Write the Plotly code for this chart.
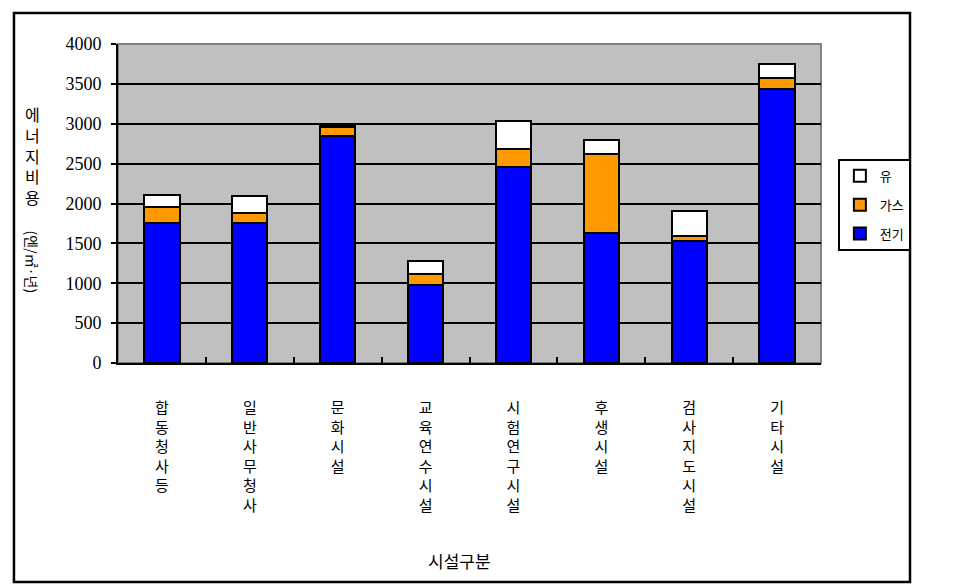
import plotly.graph_objects as go

# 시설구분별 에너지 비용 (엔/㎡·년)
categories = ["합동청사 등", "일반사무청사", "문화시설", "교육연수시설",
              "시험연구시설", "후생시설", "검사지도시설", "기타시설"]
electric = [1760, 1760, 2845, 975, 2460, 1635, 1530, 3435]   # 전기
gas = [200, 115, 110, 140, 220, 985, 60, 140]                 # 가스
oil = [145, 215, 30, 165, 360, 175, 310, 170]                 # 유
y_ticks = [0, 500, 1000, 1500, 2000, 2500, 3000, 3500, 4000]

# 세로쓰기 라벨
tick_text = ["<br>".join(c for c in name if c != " ") for name in categories]

kr = "Noto Sans CJK KR"

fig = go.Figure()
for rank, name, vals, color in [(3, "전기", electric, "#0000FF"),
                                (2, "가스", gas, "#FF9900"),
                                (1, "유", oil, "#FFFFFF")]:
    fig.add_trace(go.Bar(x=categories, y=vals, name=name, width=0.4,
                         legendgroup=name, legendrank=rank,
                         marker=dict(color=color, line=dict(color="black", width=2))))

fig.update_xaxes(
    tickmode="array", tickvals=categories, ticktext=tick_text,
    tickfont=dict(family=kr, size=15, color="black"),
    ticks="inside", tickson="boundaries", ticklen=6, tickwidth=2, tickcolor="black",
    showline=True, linecolor="black", linewidth=2,
    ticklabelstandoff=30,
)
fig.update_yaxes(
    range=[0, 4000], tickvals=y_ticks,
    tickfont=dict(family="Liberation Serif, Times New Roman, serif", size=18, color="black"),
    ticks="outside", ticklen=5, tickwidth=2, tickcolor="black",
    showline=True, linecolor="black", linewidth=2,
    showgrid=True, gridcolor="black", gridwidth=1.5,
    zeroline=False, ticklabelstandoff=6,
)

fig.update_layout(
    width=967, height=586,
    margin=dict(l=110, r=154, t=36, b=231),
    barmode="stack",
    plot_bgcolor="#C0C0C0", paper_bgcolor="white",
    showlegend=True,
    legend=dict(x=1.024, y=0.64, xanchor="left", yanchor="top",
                bordercolor="black", borderwidth=2, bgcolor="white",
                font=dict(family=kr, size=13, color="black"),
                traceorder="grouped", tracegroupgap=9, itemwidth=30),
    shapes=[
        # 바깥 테두리
        dict(type="rect", xref="paper", yref="paper",
             x0=-0.148, x1=1.1266, y0=-0.6865, y1=1.0972,
             line=dict(color="black", width=2.5)),
        # 그림 영역 테두리
        dict(type="rect", xref="paper", yref="paper", x0=0, x1=1, y0=0, y1=1,
             line=dict(color="#808080", width=2), layer="below"),
    ],
    annotations=[
        dict(text="에<br>너<br>지<br>비<br>용", xref="paper", yref="paper",
             x=-0.121, y=0.825, xanchor="center", yanchor="top", showarrow=False,
             font=dict(family=kr, size=16, color="black")),
        dict(text="(엔/㎡·년)", xref="paper", yref="paper", textangle=90,
             x=-0.121, y=0.315, xanchor="center", yanchor="middle", showarrow=False,
             font=dict(family=kr, size=14, color="black")),
        dict(text="시설구분", xref="paper", yref="paper",
             x=0.486, y=-0.6176, xanchor="center", yanchor="middle", showarrow=False,
             font=dict(family=kr, size=17, color="black")),
    ],
)

fig.write_html("out.html")
